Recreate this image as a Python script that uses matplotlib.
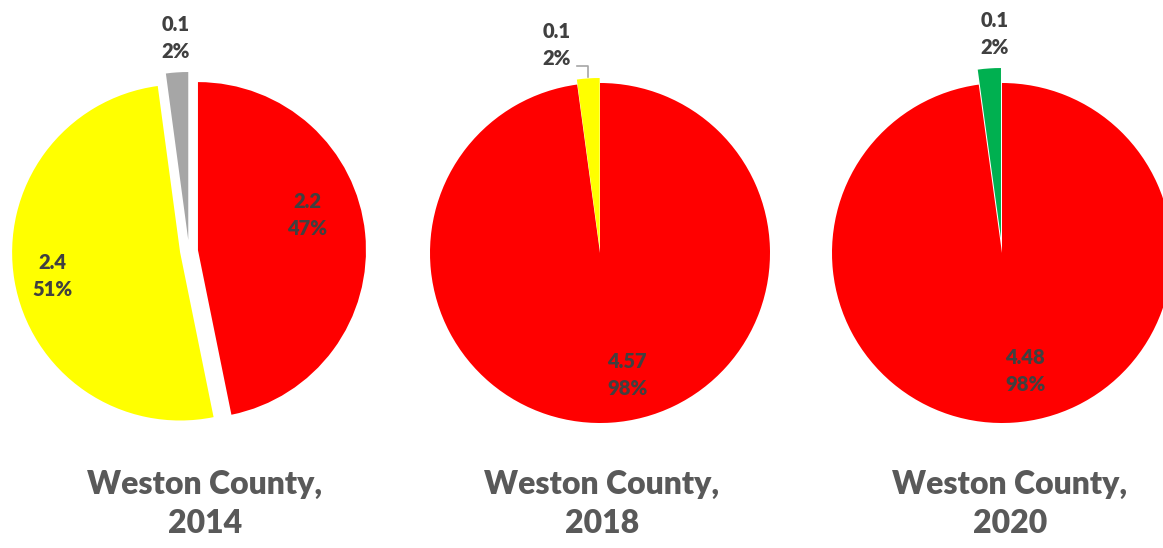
import matplotlib.pyplot as plt

# data
years = ["2014", "2018", "2020"]
values_2014 = [2.2, 2.4, 0.1]
values_2018 = [4.57, 0.1]
values_2020 = [4.48, 0.1]
colors_2014 = ["#ff0000", "#ffff00", "#a6a6a6"]
colors_2018 = ["#ff0000", "#ffff00"]
colors_2020 = ["#ff0000", "#00b050"]

W, H = 1163, 548
plt.rcParams['font.family'] = ['Lato', 'DejaVu Sans']

fig = plt.figure(figsize=(W / 100, H / 100), dpi=100)
ax = fig.add_axes([0, 0, 1, 1])

# layout in pixel coords (x, y from top); explode is in pixels here
pies = [
    dict(vals=values_2014, cols=colors_2014, center=(189, 251), r=168,
         explode=[9, 9, 11],
         labels=[(307, 215), (52, 276), (176, 38)],
         title_x=205),
    dict(vals=values_2018, cols=colors_2018, center=(600, 253), r=170,
         explode=[0, 5],
         labels=[(627, 375), (557, 45)],
         title_x=602),
    dict(vals=values_2020, cols=colors_2020, center=(1002, 253), r=170,
         explode=[0, 15],
         labels=[(1025, 371), (995, 34)],
         title_x=1010),
]

for p, year in zip(pies, years):
    cx, cy = p["center"]
    ax.pie(p["vals"], colors=p["cols"], center=(cx, H - cy), radius=p["r"],
           explode=p["explode"], startangle=90, counterclock=False,
           wedgeprops=dict(linewidth=0), frame=False)
    total = sum(p["vals"])
    for v, (lx, ly) in zip(p["vals"], p["labels"]):
        ax.text(lx, H - ly, f"{v:g}\n{v / total * 100:.0f}%", ha='center', va='center',
                fontsize=14.5, fontweight='heavy', color='#404040', linespacing=1.5)
    ax.text(p["title_x"], H - 504, f"Weston County,\n{year}", ha='center', va='center',
            fontsize=23, fontweight='heavy', color='#595959', linespacing=1.4)

# leader line for the small 2018 slice
ax.plot([577, 588, 588], [H - 66, H - 66, H - 77], color='#a6a6a6', linewidth=1.2)

ax.set_xlim(0, W)
ax.set_ylim(0, H)
ax.set_aspect('equal')
ax.axis('off')

plt.savefig("out.png", dpi=100)
